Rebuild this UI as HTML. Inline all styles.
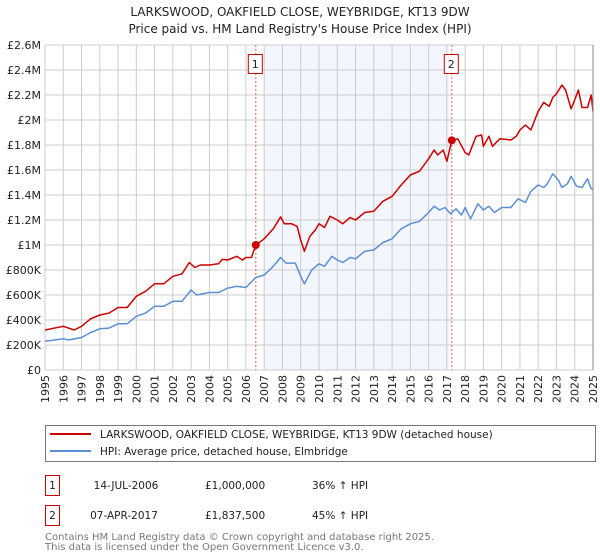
<!DOCTYPE html>
<html><head><meta charset="utf-8"><style>
body{margin:0;background:#fff;}
svg{display:block;font-family:"DejaVu Sans","Liberation Sans",sans-serif;}
</style></head><body>
<svg id="chart" width="600" height="560" viewBox="0 0 600 560">
<text x="300" y="16" text-anchor="middle" font-size="12" fill="#222">LARKSWOOD, OAKFIELD CLOSE, WEYBRIDGE, KT13 9DW</text>
<text x="300" y="33" text-anchor="middle" font-size="12" fill="#222">Price paid vs. HM Land Registry's House Price Index (HPI)</text>
<g id="plot"></g>
<g>
<rect x="45.5" y="425.5" width="550" height="36" fill="#fff" stroke="#777"/>
<line x1="50" y1="434" x2="91" y2="434" stroke="#cc0000" stroke-width="2"/>
<text x="100" y="438" font-size="10.5" fill="#222">LARKSWOOD, OAKFIELD CLOSE, WEYBRIDGE, KT13 9DW (detached house)</text>
<line x1="50" y1="451" x2="91" y2="451" stroke="#5b8fd4" stroke-width="2"/>
<text x="100" y="455" font-size="10.5" fill="#222">HPI: Average price, detached house, Elmbridge</text>
</g>
<g font-size="10.5" fill="#222">
<rect x="45.5" y="475.5" width="14" height="20" fill="none" stroke="#cc0000"/>
<text x="52.5" y="489" text-anchor="middle">1</text>
<text x="126" y="489" text-anchor="middle">14-JUL-2006</text>
<text x="205" y="489">£1,000,000</text>
<text x="312" y="489">36% ↑ HPI</text>
<rect x="45.5" y="505.5" width="14" height="20" fill="none" stroke="#cc0000"/>
<text x="52.5" y="519" text-anchor="middle">2</text>
<text x="124" y="519" text-anchor="middle">07-APR-2017</text>
<text x="205" y="519">£1,837,500</text>
<text x="312" y="519">45% ↑ HPI</text>
</g>
<text x="45" y="540" font-size="10" fill="#777">Contains HM Land Registry data © Crown copyright and database right 2025.</text>
<text x="45" y="550" font-size="10" fill="#777">This data is licensed under the Open Government Licence v3.0.</text>
</svg>
<script>
const yearTicks=[1995,1996,1997,1998,1999,2000,2001,2002,2003,2004,2005,2006,2007,2008,2009,2010,2011,2012,2013,2014,2015,2016,2017,2018,2019,2020,2021,2022,2023,2024,2025];
const valueTicks=[0,0.2,0.4,0.6,0.8,1,1.2,1.4,1.6,1.8,2,2.2,2.4,2.6];
const valueTickLabels=["£0","£200K","£400K","£600K","£800K","£1M","£1.2M","£1.4M","£1.6M","£1.8M","£2M","£2.2M","£2.4M","£2.6M"];
const redT=[1995,1996,1996.6,1997,1997.5,1998,1998.5,1999,1999.5,2000,2000.5,2001,2001.5,2002,2002.5,2002.9,2003.2,2003.5,2004,2004.5,2004.7,2005,2005.5,2005.8,2006,2006.3,2006.54,2007,2007.5,2007.9,2008.1,2008.5,2008.8,2009,2009.2,2009.5,2009.8,2010,2010.3,2010.6,2011,2011.3,2011.7,2012,2012.5,2013,2013.5,2014,2014.5,2015,2015.5,2016,2016.3,2016.5,2016.8,2017,2017.27,2017.6,2018,2018.2,2018.6,2018.9,2019,2019.3,2019.5,2019.9,2020.5,2020.8,2021,2021.3,2021.6,2022,2022.3,2022.6,2022.8,2023,2023.3,2023.5,2023.8,2024,2024.2,2024.4,2024.7,2024.9,2025];
const redV=[0.32,0.35,0.32,0.35,0.41,0.44,0.455,0.5,0.5,0.59,0.63,0.69,0.69,0.75,0.77,0.86,0.82,0.84,0.84,0.85,0.885,0.88,0.91,0.88,0.9,0.9,1.0,1.05,1.13,1.225,1.17,1.17,1.15,1.04,0.95,1.07,1.12,1.17,1.14,1.23,1.2,1.17,1.22,1.2,1.26,1.27,1.35,1.39,1.48,1.56,1.59,1.69,1.76,1.72,1.76,1.67,1.8375,1.85,1.74,1.72,1.87,1.88,1.79,1.87,1.79,1.85,1.84,1.87,1.92,1.96,1.92,2.07,2.14,2.11,2.18,2.21,2.28,2.24,2.09,2.16,2.24,2.1,2.1,2.2,2.07];
const blueT=[1995,1996,1996.3,1997,1997.5,1998,1998.5,1999,1999.5,2000,2000.5,2001,2001.5,2002,2002.5,2003,2003.3,2004,2004.5,2005,2005.5,2006,2006.54,2007,2007.5,2007.9,2008.2,2008.7,2009,2009.2,2009.6,2010,2010.3,2010.7,2011,2011.3,2011.7,2012,2012.5,2013,2013.5,2014,2014.5,2015,2015.5,2016,2016.3,2016.6,2016.9,2017.2,2017.5,2017.8,2018,2018.3,2018.7,2019,2019.3,2019.6,2020,2020.5,2020.9,2021.3,2021.6,2022,2022.3,2022.5,2022.8,2023.1,2023.3,2023.6,2023.8,2024.1,2024.4,2024.7,2024.9,2025];
const blueV=[0.23,0.25,0.24,0.26,0.3,0.33,0.335,0.37,0.37,0.43,0.455,0.51,0.51,0.55,0.55,0.64,0.6,0.62,0.62,0.655,0.67,0.66,0.74,0.76,0.83,0.9,0.855,0.855,0.75,0.69,0.8,0.85,0.83,0.91,0.88,0.86,0.9,0.89,0.95,0.96,1.02,1.05,1.13,1.17,1.19,1.26,1.31,1.28,1.3,1.25,1.29,1.24,1.3,1.21,1.33,1.28,1.31,1.26,1.3,1.3,1.37,1.34,1.43,1.48,1.46,1.49,1.57,1.52,1.46,1.49,1.55,1.47,1.46,1.53,1.45,1.45];
const saleT=[2006.54,2017.27];
const saleV=[1.0,1.8375];
const saleLabels=["1","2"];
const shadeRange=[2007,2017.27];

const X0=45,X1=593,Y0=370,Y1=45;
const xs=t=>X0+(t-1995)/(2025-1995)*(X1-X0);
const ys=v=>Y0-v/2.6*(Y0-Y1);
const NS="http://www.w3.org/2000/svg";
const g=document.getElementById('plot');
function mk(tag,attrs,parent){const e=document.createElementNS(NS,tag);for(const k in attrs)e.setAttribute(k,attrs[k]);(parent||g).appendChild(e);return e;}

const shade=mk('rect',{x:xs(shadeRange[0]),y:Y1,width:xs(shadeRange[1])-xs(shadeRange[0])-3,height:Y0-Y1,fill:'#f3f6fd'});


yearTicks.forEach(t=>{
  const l=mk('line',{x1:xs(t),x2:xs(t),y1:Y1,y2:Y0,stroke:'#ccc','stroke-width':1});
  
  
  const ax=xs(t)+4, ay=Y0+5;
  const tx=mk('text',{x:ax,y:ay,'font-size':11,fill:'#222','text-anchor':'end',transform:'rotate(-90 '+ax+' '+ay+')'});
  tx.textContent=t;
  
  
});
valueTicks.forEach((v,i)=>{
  const l=mk('line',{x1:X0,x2:X1,y1:ys(v),y2:ys(v),stroke:'#ccc','stroke-width':1});
  
  
  const tx=mk('text',{x:X0-4,y:ys(v)+4,'font-size':11,fill:'#222','text-anchor':'end'});
  tx.textContent=valueTickLabels[i];
  
  
});
saleT.forEach((t,i)=>{
  const l=mk('line',{x1:xs(t),x2:xs(t),y1:Y1,y2:Y0,stroke:'#e06060','stroke-width':1,'stroke-dasharray':'2,2'});
  
  
});
function path(T,V,color,name){
  const d=T.map((t,i)=>(i?'L':'M')+xs(t).toFixed(1)+','+ys(V[i]).toFixed(1)).join('');
  const p=mk('path',{d:d,fill:'none',stroke:color,'stroke-width':1.5,'stroke-linejoin':'round'});
  
  
}
path(blueT,blueV,'#5b8fd4','hpi-line');
path(redT,redV,'#cc0000','property-price-line');
saleT.forEach((t,i)=>{
  const c=mk('circle',{cx:xs(t),cy:ys(saleV[i]),r:4,fill:'#cc0000'});
  
  
  const r=mk('rect',{x:xs(t)-7.5,y:54.5,width:14,height:19,fill:'#fff',stroke:'#cc0000'});
  
  
  const tx=mk('text',{x:xs(t)-0.5,y:68,'font-size':11,fill:'#222','text-anchor':'middle'});
  tx.textContent=saleLabels[i];
  
  
});
const ax=mk('line',{x1:X1,x2:X1,y1:Y1,y2:Y0,stroke:'#888','stroke-width':1});


</script>
</body></html>
